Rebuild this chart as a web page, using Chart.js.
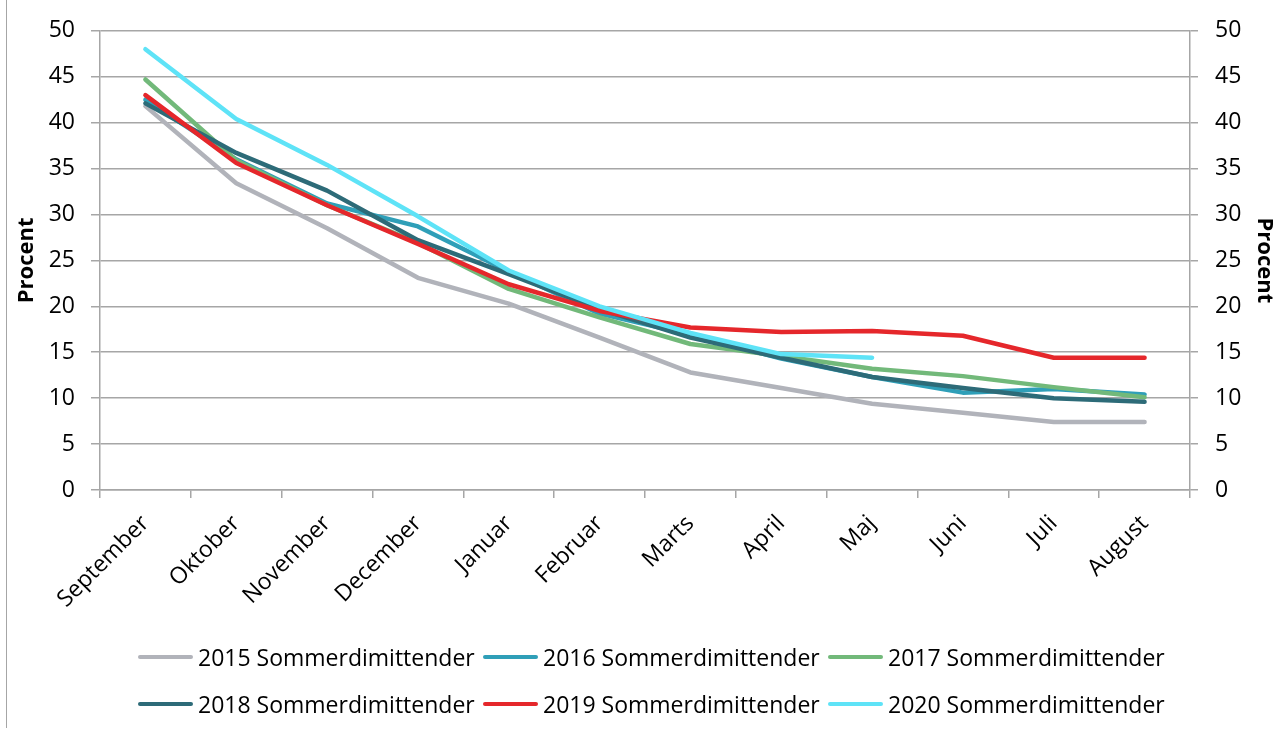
<!DOCTYPE html>
<html>
<head>
<meta charset="utf-8">
<script src="https://cdn.jsdelivr.net/npm/chart.js@4.4.1/dist/chart.umd.min.js"></script>
<style>
  body { margin: 0; background: #fff; overflow: hidden; }
  #wrap { position: relative; width: 1284px; height: 733px; }
  #border { position: absolute; left: 6px; top: 0; width: 1px; height: 728px; background: #a6a6a6; }
  #legend { position: absolute; left: 0; top: 0; width: 1284px; height: 733px; pointer-events: none;
            font-family: "Open Sans", sans-serif; font-size: 23px; color: #000; }
  .item { position: absolute; display: flex; align-items: center; white-space: nowrap; }
  .swatch { width: 55px; height: 4px; border-radius: 2px; margin-right: 5px; }
</style>
</head>
<body>
<div id="wrap">
  <canvas id="lineChart" width="1284" height="733"></canvas>
  <div id="border"></div>
  <div id="legend"></div>
</div>
<script>
// months, sept -> aug
const months = ['September', 'Oktober', 'November', 'December', 'Januar', 'Februar',
                'Marts', 'April', 'Maj', 'Juni', 'Juli', 'August'];

const seriesNames = ['2015 Sommerdimittender', '2016 Sommerdimittender', '2017 Sommerdimittender',
                     '2018 Sommerdimittender', '2019 Sommerdimittender', '2020 Sommerdimittender'];
const seriesColours = ['#b1b3ba', '#2f9fb8', '#72b97a', '#2d6b78', '#e5272b', '#5ee3f7'];

// values in procent
const values2015 = [41.8, 33.4, 28.5, 23.1, 20.3, 16.6, 12.8, 11.1, 9.4, 8.4, 7.4, 7.4];
const values2016 = [42.5, 36.0, 31.2, 28.7, 23.8, 19.2, 16.9, 14.3, 12.3, 10.6, 11.0, 10.4];
const values2017 = [44.7, 35.9, 31.0, 26.9, 21.9, 18.8, 15.9, 14.6, 13.2, 12.4, 11.2, 10.1];
const values2018 = [42.1, 36.7, 32.6, 27.2, 23.5, 19.7, 16.6, 14.4, 12.3, 11.1, 10.0, 9.6];
const values2019 = [43.0, 35.6, 31.0, 26.8, 22.4, 19.5, 17.7, 17.2, 17.3, 16.8, 14.4, 14.4];
const values2020 = [48.0, 40.4, 35.4, 29.8, 23.9, 20.0, 17.1, 14.8, 14.4, null, null, null];

const yTicks = [0, 5, 10, 15, 20, 25, 30, 35, 40, 45, 50];

const allValues = [values2015, values2016, values2017, values2018, values2019, values2020];

const fontFamily = '"Open Sans", sans-serif';
const axisGrey = '#a6a6a6';

// excel draws the last series on top, chart.js the first -> reverse with order
const datasets = allValues.map((vals, i) => ({
    label: seriesNames[i],
    data: vals,
    borderColor: seriesColours[i],
    backgroundColor: seriesColours[i],
    borderWidth: 4.5,
    borderCapStyle: 'round',
    borderJoinStyle: 'round',
    pointRadius: 0,
    tension: 0,
    spanGaps: false,
    order: allValues.length - i
}));

const ctx = document.getElementById('lineChart').getContext('2d');
const chart = new Chart(ctx, {
    type: 'line',
    data: { labels: months, datasets: datasets },
    options: {
        responsive: false,
        animation: false,
        layout: { padding: { top: 28, left: 0, right: 0, bottom: 0 } },
        scales: {
            x: {
                offset: true,
                grid: {
                    offset: true,
                    drawOnChartArea: false,
                    color: axisGrey,
                    lineWidth: 1.5,
                    tickLength: 8
                },
                border: { color: axisGrey, width: 1.5 },
                ticks: {
                    minRotation: 45,
                    maxRotation: 45,
                    padding: 12,
                    color: '#000',
                    font: { family: fontFamily, size: 23 }
                },
                afterFit: (scale) => { scale.height = 243; }
            },
            y: {
                position: 'left',
                min: 0,
                max: 50,
                afterBuildTicks: (scale) => { scale.ticks = yTicks.map(v => ({ value: v })); },
                grid: { color: axisGrey, lineWidth: 1.5, tickLength: 9 },
                border: { color: axisGrey, width: 1.5 },
                ticks: { padding: 16, color: '#000', font: { family: fontFamily, size: 23 } },
                title: {
                    display: true,
                    text: 'Procent',
                    color: '#000',
                    padding: { top: 14, bottom: 0 },
                    font: { family: fontFamily, size: 22, weight: 'bold' }
                },
                afterFit: (scale) => { scale.width = 100; }
            },
            y2: {
                position: 'right',
                min: 0,
                max: 50,
                afterBuildTicks: (scale) => { scale.ticks = yTicks.map(v => ({ value: v })); },
                grid: { drawOnChartArea: false, color: axisGrey, lineWidth: 1.5, tickLength: 8 },
                border: { color: axisGrey, width: 1.5 },
                ticks: { padding: 17, color: '#000', font: { family: fontFamily, size: 23 } },
                title: {
                    display: true,
                    text: 'Procent',
                    color: '#000',
                    padding: { top: 7, bottom: 0 },
                    font: { family: fontFamily, size: 22, weight: 'bold' }
                },
                afterFit: (scale) => { scale.width = 94; }
            }
        },
        plugins: {
            legend: { display: false },
            tooltip: { enabled: false }
        }
    }
});

// legend below the chart, 3 columns x 2 rows like the excel original
const legendEl = document.getElementById('legend');
const colX = [138, 483, 828];
const rowY = [657, 704];
seriesNames.forEach((name, i) => {
    const item = document.createElement('div');
    item.className = 'item';
    item.style.left = colX[i % 3] + 'px';
    item.style.top = (rowY[Math.floor(i / 3)] - 16) + 'px';
    item.style.height = '32px';
    item.innerHTML = '<span class="swatch" style="background:' + seriesColours[i] + '"></span>' + name;
    legendEl.appendChild(item);
});
</script>
</body>
</html>
